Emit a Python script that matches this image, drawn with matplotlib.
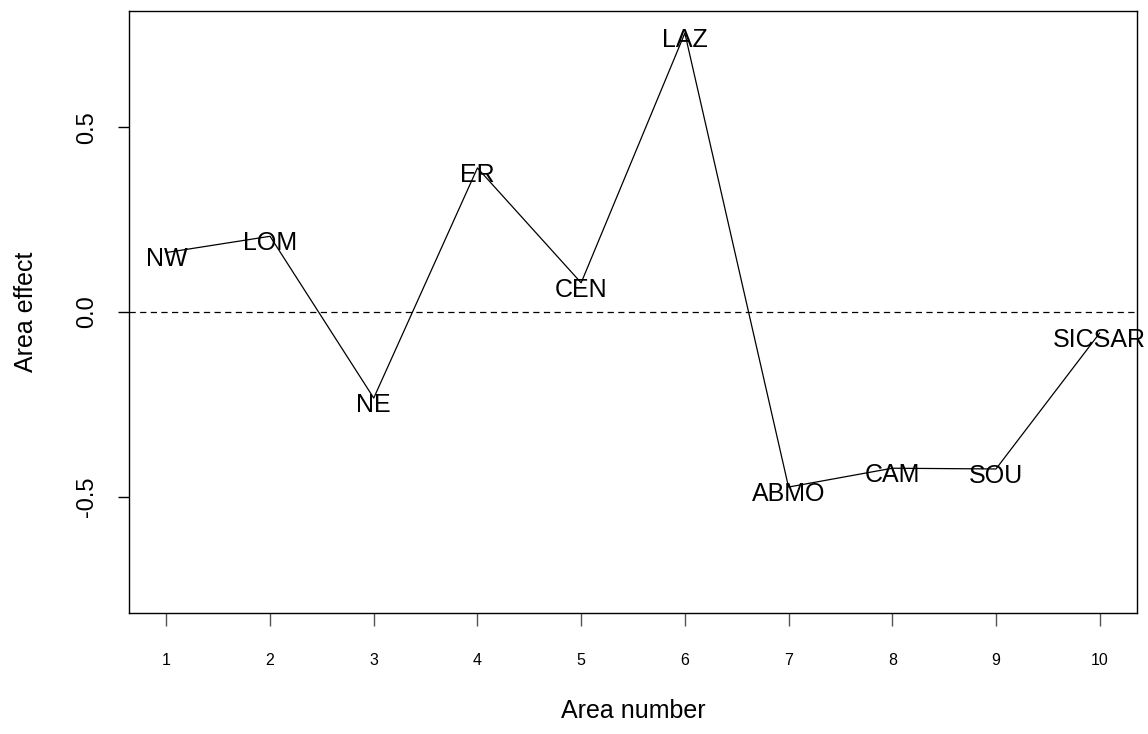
import matplotlib
matplotlib.use("Agg")
import matplotlib.pyplot as plt

area_number = [1, 2, 3, 4, 5, 6, 7, 8, 9, 10]
area_effect = [0.161, 0.205, -0.233, 0.390, 0.079, 0.755, -0.474, -0.423, -0.425, -0.057]
area_labels = ["NW", "LOM", "NE", "ER", "CEN", "LAZ", "ABMO", "CAM", "SOU", "SICSAR"]
y_ticks = [-0.5, 0.0, 0.5]
y_tick_labels = ["-0.5", "0.0", "0.5"]

plt.rcParams['font.family'] = ['Liberation Sans', 'DejaVu Sans']

W, H = 1148, 734
fig = plt.figure(figsize=(W / 100, H / 100), dpi=100)
left, right, top, bottom = 129, 1137, 11, 613
ax = fig.add_axes([left / W, (H - bottom) / H, (right - left) / W, (bottom - top) / H])

ax.plot(area_number, area_effect, color="black", lw=0.9)
ax.axhline(0.0, color="black", lw=0.9, dashes=(5, 3.5))
for xv, yv, lab in zip(area_number, area_effect, area_labels):
    ax.annotate(lab, (xv, yv), xytext=(0, -5), textcoords="offset points",
                ha="center", va="center", fontsize=18, color="black")

ax.set_xlim(0.64, 10.36)
ax.set_ylim(-0.815, 0.815)
ax.set_xticks(area_number)
ax.set_xticklabels([str(v) for v in area_number], fontsize=11.5)
ax.set_yticks(y_ticks)
ax.set_yticklabels(y_tick_labels, fontsize=17, rotation=90, va="center")
ax.tick_params(axis="x", length=9, width=1, color="#555555", pad=20)
ax.tick_params(axis="y", length=8, width=1, color="black", pad=14)
for s in ax.spines.values():
    s.set_linewidth(1)
    s.set_color("black")

ax.set_xlabel("Area number", fontsize=18, labelpad=22)
ax.set_ylabel("Area effect", fontsize=18, labelpad=28)

fig.savefig("out.png", dpi=100)
